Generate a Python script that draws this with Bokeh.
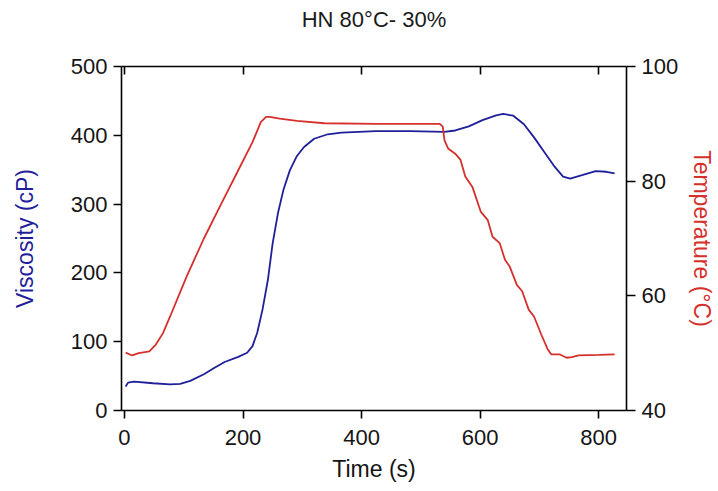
from bokeh.plotting import figure
from bokeh.models import LinearAxis, Range1d, FixedTicker, CustomJSTickFormatter
from bokeh.embed import file_html
from bokeh.resources import INLINE

# Viscosity series (time s, viscosity cP)
visc_time = [2, 6, 16, 48, 77, 94, 111, 134, 152, 169, 192, 207, 216, 224, 233, 242, 250, 259, 268,
             279, 291, 303, 320, 343, 366, 424, 482, 540, 558, 581, 604, 627, 639, 656, 674, 691,
             708, 726, 740, 752, 772, 795, 813, 827]
viscosity = [35, 40.5, 42, 39.6, 38, 38.6, 43, 52.6, 62, 70.5, 78, 84, 93.6, 113, 147, 190, 243, 287, 320,
             349, 370, 383, 395, 401.5, 404, 406, 406, 405, 407, 413, 422, 429, 431, 428.5, 416, 397,
             376, 354, 340, 337, 342, 348, 347, 344.6]

# Temperature series (time s, temperature °C)
temp_time = [2, 13, 24, 42, 53, 65, 77, 105, 134, 163, 192, 216, 230, 239, 245, 262, 291, 337, 424,
             532, 537, 540, 546, 558, 567, 575, 587, 601, 613, 621, 633, 642, 650, 662, 671, 682,
             691, 703, 714, 720, 734, 746, 755, 766, 801, 827]
temperature = [50.1, 49.6, 50, 50.3, 51.5, 53.5, 56.4, 63.4, 70, 76, 81.9, 86.8, 90.3, 91.2, 91.2, 90.9,
               90.5, 90.1, 90.0, 90.0, 89.5, 87.1, 85.7, 84.8, 83.7, 80.8, 79, 74.7, 73.2, 70.3, 69.2,
               66.3, 65.1, 61.9, 60.8, 57.6, 56.4, 53.3, 50.7, 49.8, 49.8, 49.2, 49.3, 49.6, 49.7, 49.8]

x_ticks = [0, 200, 400, 600, 800]
visc_ticks = [0, 100, 200, 300, 400, 500]
temp_ticks = [40, 60, 80, 100]
title_text = "HN 80°C- 30%"

BLUE = "#1f1f9a"
RED = "#d6302c"
FONT = "Liberation Sans"
TICK_FS = "22px"
LABEL_FS = "23px"

p = figure(width=718, height=491, output_backend="svg", toolbar_location=None,
           title_location=None,
           x_range=Range1d(-5, 847), y_range=Range1d(0, 500),
           min_border_left=121, min_border_right=90, min_border_top=66, min_border_bottom=81)
p.extra_y_ranges = {"temp": Range1d(40, 100)}
p.outline_line_color = None
p.grid.visible = False

p.line(visc_time, viscosity, color=BLUE, line_width=1.8)
p.line(temp_time, temperature, color=RED, line_width=1.8, y_range_name="temp")

def style(ax):
    ax.axis_line_color = "black"
    ax.axis_line_width = 1.6
    ax.major_tick_line_color = "black"
    ax.major_tick_line_width = 1.6
    ax.minor_tick_line_color = None
    ax.major_label_text_font = FONT
    ax.major_label_text_font_size = TICK_FS
    ax.major_label_text_color = "#151515"
    ax.axis_label_text_font = FONT
    ax.axis_label_text_font_size = LABEL_FS
    ax.axis_label_text_font_style = "normal"

xa = p.xaxis[0]
style(xa)
xa.ticker = FixedTicker(ticks=x_ticks)
xa.axis_label = "Time (s)"
xa.major_tick_in = 0
xa.major_tick_out = 8
xa.major_label_standoff = 11
xa.axis_label_standoff = 8
xa.axis_label_text_color = "#151515"

ya = p.yaxis[0]
style(ya)
ya.ticker = FixedTicker(ticks=visc_ticks)
ya.axis_label = "Viscosity (cP)"
ya.axis_label_text_color = BLUE
ya.major_tick_in = 0
ya.major_tick_out = 8
ya.major_label_standoff = 6
ya.axis_label_standoff = 30

ra = LinearAxis(y_range_name="temp", ticker=FixedTicker(ticks=temp_ticks),
                axis_label="Temperature (°C)")
style(ra)
ra.axis_label_text_color = RED
ra.major_tick_in = 0
ra.major_tick_out = 9
ra.major_label_standoff = 6
ra.axis_label_standoff = 8
p.add_layout(ra, "right")

# top mirror axis: inward ticks, carries the chart title as its label
ta = LinearAxis(ticker=FixedTicker(ticks=x_ticks),
                formatter=CustomJSTickFormatter(code="return ''"),
                axis_label=title_text)
style(ta)
ta.major_tick_in = 8
ta.major_tick_out = 0
ta.major_label_standoff = 0
ta.axis_label_text_font_size = "22px"
ta.axis_label_text_color = "#1a1a1a"
ta.axis_label_standoff = 35
p.add_layout(ta, "above")

open("out.html", "w").write(file_html(p, INLINE))
